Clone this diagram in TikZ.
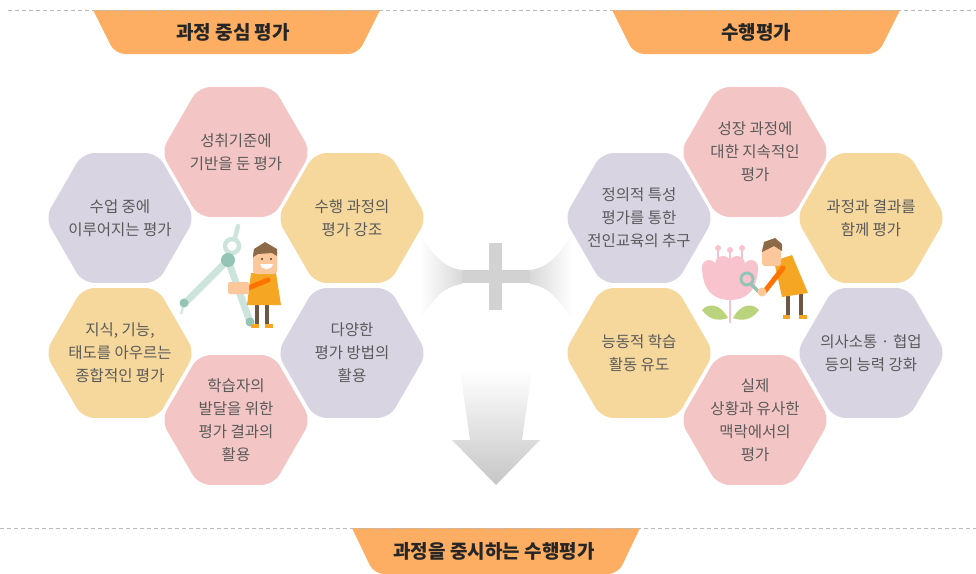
\documentclass[tikz,border=0pt]{standalone}
\usepackage{fontspec}
\setmainfont{Noto Sans CJK KR}
\usetikzlibrary{shapes.geometric}

\definecolor{hexpink}{HTML}{F3C6C5}
\definecolor{hexlila}{HTML}{D8D4E2}
\definecolor{hexgelb}{HTML}{F6D89D}
\definecolor{bannerorange}{HTML}{FDAE62}
\definecolor{hextxt}{HTML}{5A5A5A}
\definecolor{skin}{HTML}{FBC79B}
\definecolor{shirt}{HTML}{F5A623}
\definecolor{hair}{HTML}{8C6A48}
\definecolor{trousers}{HTML}{6E5645}
\definecolor{mint}{HTML}{CDE4DC}
\definecolor{mintdark}{HTML}{93C4B5}
\definecolor{tulip}{HTML}{F9C3CD}
\definecolor{leaf}{HTML}{B9D47C}

\begin{document}
\begin{tikzpicture}[x=1pt,y=-1pt,
  hex/.style={regular polygon,regular polygon sides=6,minimum size=150pt,inner sep=0pt,rounded corners=12pt,fill=#1},
  hx/.style={align=center,text=hextxt,font=\fontsize{15.5}{23}\selectfont},
  bt/.style={font=\fontsize{19}{22}\selectfont\bfseries,text=black!85},
  sep/.style={draw=gray!55,dash pattern=on 4pt off 3pt,line width=1pt}]
\useasboundingbox (0,0) rectangle (976,573);

% banners
\fill[bannerorange] (93,10) -- (380,10) [rounded corners=10pt] -- (358,54) -- (115,54) [sharp corners] -- cycle;
\fill[bannerorange] (612,10) -- (900,10) [rounded corners=10pt] -- (878,54) -- (634,54) [sharp corners] -- cycle;
\fill[bannerorange] (352,528) -- (640,528) [rounded corners=10pt] -- (618,574) -- (374,574) [sharp corners] -- cycle;
\draw[sep] (8,10) -- (976,10);
\draw[sep] (0,528) -- (976,528);
\node[bt] (titleL) at (233,32) {과정 중심 평가};
\node[bt] (titleR) at (756,32) {수행평가};
\node[bt] (titleB) at (494,551) {과정을 중시하는 수행평가};

% plus with fading wings
\shade[left color=white,right color=gray!30] (420,233) .. controls (432,255) and (445,268) .. (462,270) -- (462,284) .. controls (445,286) and (432,299) .. (420,321) -- cycle;
\shade[left color=gray!30,right color=white] (530,270) .. controls (547,268) and (560,255) .. (572,233) -- (572,321) .. controls (560,299) and (547,286) .. (530,284) -- cycle;
\fill[gray!35] (489,243) rectangle (502,310);
\fill[gray!35] (462,270) rectangle (530,283);

% arrow down
\shade[top color=white,bottom color=gray!45] (460,370) -- (532,370) -- (522,440) -- (540,440) -- (496,485) -- (452,440) -- (470,440) -- cycle;

% left honeycomb
\node[hex=hexpink] (hl1) at (236,152) {};
\node[hex=hexlila] (hl2) at (120,218) {};
\node[hex=hexgelb] (hl3) at (352,218) {};
\node[hex=hexgelb] (hl4) at (120,353) {};
\node[hex=hexlila] (hl5) at (352,353) {};
\node[hex=hexpink] (hl6) at (236,420) {};
\node[hx] (tl1) at (hl1) {성취기준에\\기반을 둔 평가};
\node[hx] (tl2) at (hl2) {수업 중에\\이루어지는 평가};
\node[hx] (tl3) at (hl3) {수행 과정의\\평가 강조};
\node[hx] (tl4) at (hl4) {지식, 기능,\\태도를 아우르는\\종합적인 평가};
\node[hx] (tl5) at (hl5) {다양한\\평가 방법의\\활용};
\node[hx] (tl6) at (hl6) {학습자의\\발달을 위한\\평가 결과의\\활용};

% right honeycomb
\node[hex=hexpink] (hr1) at (755,152) {};
\node[hex=hexlila] (hr2) at (639,218) {};
\node[hex=hexgelb] (hr3) at (871,218) {};
\node[hex=hexgelb] (hr4) at (639,353) {};
\node[hex=hexlila] (hr5) at (871,353) {};
\node[hex=hexpink] (hr6) at (755,420) {};
\node[hx] (tr1) at (hr1) {성장 과정에\\대한 지속적인\\평가};
\node[hx] (tr2) at (hr2) {정의적 특성\\평가를 통한\\전인교육의 추구};
\node[hx] (tr3) at (hr3) {과정과 결과를\\함께 평가};
\node[hx] (tr4) at (hr4) {능동적 학습\\활동 유도};
\node[hx] (tr5) at (hr5) {의사소통 · 협업\\등의 능력 강화};
\node[hx] (tr6) at (hr6) {실제\\상황과 유사한\\맥락에서의\\평가};

% compass
\draw[mint,line width=7pt,line cap=round] (228,260) -- (185,303);
\draw[mint,line width=7pt,line cap=round] (228,260) -- (250,322);
\draw[mint,line width=2pt] (184,303) -- (181,314);
\draw[mint,line width=4.5pt] (232,246) circle (7pt);
\draw[mint,line width=4.5pt,line cap=round] (235,238) -- (238,226);
\fill[mintdark] (228,260) circle (7pt);
\fill[mintdark] (184,303) circle (4.5pt);
\fill[mintdark] (250,322) circle (4.5pt);

% boy with compass
\fill[trousers] (255,303) rectangle (259,326);
\fill[trousers] (265,303) rectangle (269,326);
\fill[shirt] (251,324) rectangle (259,328);
\fill[shirt] (265,324) rectangle (273,328);
\fill[shirt] (251,273) -- (276,273) -- (281,305) -- (247,305) -- cycle;
\draw[orange!90!red,line width=5pt,line cap=round] (268,280) -- (246,289);
\fill[skin,rounded corners=2pt] (228,282) rectangle (249,294);
\fill[skin,rounded corners=3pt] (253,250) rectangle (277,274);
\fill[hair] (253,257) -- (254,249) -- (265,242) -- (277,249) -- (277,256) -- (272,253) -- (258,254) -- cycle;
\fill[hair!60!black] (262,259) circle (1.2pt);
\fill[hair!60!black] (271,259) circle (1.2pt);
\fill[white] (260,264) .. controls (262,271) and (271,271) .. (273,264) -- cycle;

% tulip
\draw[tulip,line width=2.5pt] (730,295) -- (730,323);
\fill[leaf] (728,318) .. controls (720,303) and (708,303) .. (702,310) .. controls (710,321) and (720,321) .. (728,318) -- cycle;
\fill[leaf] (733,318) .. controls (741,303) and (753,303) .. (759,310) .. controls (751,321) and (741,321) .. (733,318) -- cycle;
\draw[tulip,line width=1.5pt] (718,248) -- (718,264);
\draw[tulip,line width=1.5pt] (730,250) -- (730,264);
\draw[tulip,line width=1.5pt] (742,248) -- (742,264);
\fill[tulip] (718,248) circle (3pt);
\fill[tulip] (730,250) circle (3pt);
\fill[tulip] (742,248) circle (3pt);
\fill[tulip] (702,266) -- (758,266) .. controls (758,292) and (745,300) .. (730,300) .. controls (715,300) and (702,292) .. (702,266) -- cycle;
\fill[tulip] (709,267) circle (7pt);
\fill[tulip] (723,264) circle (8pt);
\fill[tulip] (737,264) circle (8pt);
\fill[tulip] (751,267) circle (7pt);

% girl with magnifier
\fill[trousers] (786,293) rectangle (790,317);
\fill[trousers] (799,293) rectangle (803,317);
\fill[shirt] (783,315) rectangle (790,319);
\fill[shirt] (799,315) rectangle (807,319);
\fill[shirt] (774,261) -- (792,255) -- (808,293) -- (782,297) -- cycle;
\draw[orange!90!red,line width=5pt,line cap=round] (783,268) -- (765,291);
\draw[mintdark,line width=3pt] (747,279) circle (6pt);
\draw[mintdark,line width=3.5pt,line cap=round] (752,285) -- (760,293);
\fill[skin] (762,292) circle (4.5pt);
\fill[skin,rounded corners=3pt] (762,246) rectangle (781,266);
\fill[hair] (762,252) -- (764,242) -- (775,238) -- (782,244) -- (782,251) -- (774,246) -- (766,250) -- cycle;
\end{tikzpicture}
\end{document}
